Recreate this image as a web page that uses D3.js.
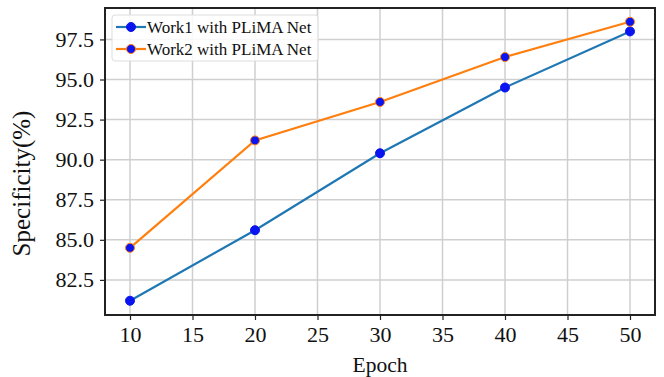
<!DOCTYPE html>
<html>
<head>
<meta charset="utf-8">
<script src="https://cdn.jsdelivr.net/npm/d3@7"></script>
<style>
  body { margin: 0; background: #fff; }
  svg { display: block; font-family: "Liberation Serif", "Times New Roman", serif; }
  svg .tick text { font-family: "Liberation Serif", serif; font-size: 22px; fill: #111; }
</style>
</head>
<body>
<svg></svg>
<script>
const epochs = [10, 20, 30, 40, 50];
const work1 = [81.2, 85.6, 90.4, 94.5, 98.0];
const work2 = [84.5, 91.2, 93.6, 96.4, 98.6];
const seriesNames = ["Work1 with PLiMA Net", "Work2 with PLiMA Net"];
const xTicks = [10, 15, 20, 25, 30, 35, 40, 45, 50];
const yTicks = [82.5, 85.0, 87.5, 90.0, 92.5, 95.0, 97.5];

const size = { w: 664, h: 377 };
const margin = { t: 8, r: 9, b: 62, l: 105 };
const svg = d3.select("svg").attr("width", size.w).attr("height", size.h);

const x = d3.scaleLinear().domain([8, 52]).range([margin.l, size.w - margin.r]);
const y = d3.scaleLinear().domain([80.31, 99.46]).range([size.h - margin.b, margin.t]);

// grid lines
const gridG = svg.append("g").attr("stroke", "#cfcfcf").attr("stroke-width", 1.5);
gridG.selectAll("line.gx").data(xTicks).join("line")
  .attr("x1", d => x(d)).attr("x2", d => x(d))
  .attr("y1", margin.t).attr("y2", size.h - margin.b);
gridG.selectAll("line.gy").data(yTicks).join("line")
  .attr("y1", d => y(d)).attr("y2", d => y(d))
  .attr("x1", margin.l).attr("x2", size.w - margin.r);

// axes
const xAxis = svg.append("g")
  .attr("transform", `translate(0,${size.h - margin.b})`)
  .call(d3.axisBottom(x).tickValues(xTicks).tickSize(5).tickPadding(6).tickFormat(d3.format("d")));
const yAxis = svg.append("g")
  .attr("transform", `translate(${margin.l},0)`)
  .call(d3.axisLeft(y).tickValues(yTicks).tickSize(5).tickPadding(6).tickFormat(d3.format(".1f")));
[xAxis, yAxis].forEach(a => {
  a.attr("font-family", null).attr("font-size", null);
  a.select(".domain").remove();
  a.selectAll("line").attr("stroke", "#222").attr("stroke-width", 1.2);
});

// frame
svg.append("rect")
  .attr("x", margin.l).attr("y", margin.t)
  .attr("width", size.w - margin.r - margin.l)
  .attr("height", size.h - margin.b - margin.t)
  .attr("fill", "none").attr("stroke", "#222").attr("stroke-width", 2);

// lines
const colors = ["#1f77b4", "#ff7f0e"];
const line = d3.line().x((d, i) => x(epochs[i])).y(d => y(d));
[work1, work2].forEach((vals, k) => {
  svg.append("path").datum(vals)
    .attr("d", line).attr("fill", "none")
    .attr("stroke", colors[k]).attr("stroke-width", 2.2);
  svg.append("g").selectAll("circle").data(vals).join("circle")
    .attr("cx", (d, i) => x(epochs[i])).attr("cy", d => y(d))
    .attr("r", 4.5).attr("fill", "#0a14f0")
    .attr("stroke", k === 1 ? colors[1] : "#0a14f0").attr("stroke-width", 1);
});

// legend
const lg = svg.append("g").attr("transform", "translate(112,15)");
lg.append("rect").attr("width", 206).attr("height", 46).attr("rx", 3)
  .attr("fill", "#fff").attr("fill-opacity", 0.85)
  .attr("stroke", "#ddd").attr("stroke-width", 1);
seriesNames.forEach((name, k) => {
  const row = lg.append("g").attr("transform", `translate(0,${12 + k * 22})`);
  row.append("line").attr("x1", 4).attr("x2", 34).attr("stroke", colors[k]).attr("stroke-width", 2.2);
  row.append("circle").attr("cx", 19).attr("r", 4.5).attr("fill", "#0a14f0")
    .attr("stroke", k === 1 ? colors[1] : "#0a14f0").attr("stroke-width", 1);
  row.append("text").attr("x", 35).attr("dy", "0.35em")
    .style("font-size", "17px").attr("fill", "#111").text(name);
});

// axis labels
svg.append("text").attr("x", (x(8) + x(52)) / 2).attr("y", 372)
  .attr("text-anchor", "middle").style("font-size", "21.5px").attr("fill", "#111").text("Epoch");
svg.append("text")
  .attr("transform", `translate(30,${(margin.t + size.h - margin.b) / 2 + 22}) rotate(-90)`)
  .attr("text-anchor", "middle").style("font-size", "25px").attr("fill", "#111").text("Specificity(%)");
</script>
</body>
</html>
